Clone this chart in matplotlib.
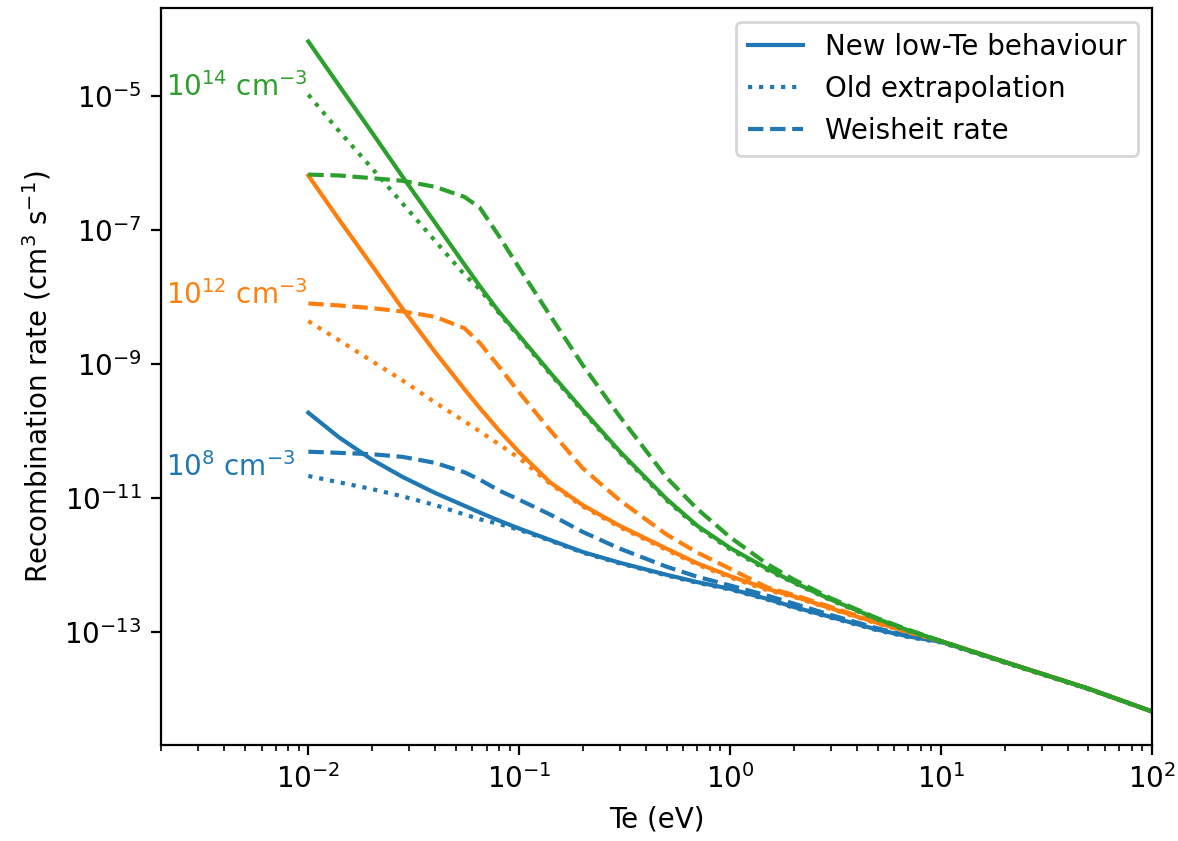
import numpy as np
import matplotlib
matplotlib.use("Agg")
import matplotlib.pyplot as plt

# Electron temperature grid (eV)
Te = [0.01, 0.014, 0.02, 0.028, 0.04, 0.055, 0.065, 0.08, 0.1, 0.14, 0.2, 0.3,
      0.5, 0.7, 1, 1.5, 2, 3, 5, 7, 10, 20, 50, 100]

# log10 of recombination rate (cm^3 s^-1)
ne14_new = [-4.18, -4.84, -5.535, -6.20, -6.89, -7.51, -7.83, -8.21, -8.57, -9.12, -9.68, -10.30,
            -11.01, -11.41, -11.74, -12.05, -12.25, -12.51, -12.80, -12.97, -13.13, -13.44, -13.84, -14.18]
ne14_old = [-4.975, -5.52, -6.07, -6.60, -7.16, -7.66, -7.88, -8.23, -8.59, -9.14, -9.70, -10.32,
            -11.03, -11.43, -11.76, -12.07, -12.26, -12.52, -12.81, -12.98, -13.14, -13.45, -13.85, -14.18]
ne14_weis = [-6.167, -6.18, -6.22, -6.26, -6.35, -6.50, -6.66, -7.08, -7.56, -8.27, -9.01, -9.78,
             -10.69, -11.16, -11.58, -11.98, -12.21, -12.49, -12.79, -12.96, -13.13, -13.44, -13.84, -14.18]

ne12_new = [-6.18, -6.84, -7.52, -8.17, -8.82, -9.37, -9.65, -9.98, -10.31, -10.76, -11.10, -11.41,
            -11.75, -11.97, -12.16, -12.35, -12.46, -12.64, -12.86, -12.99, -13.13, -13.44, -13.84, -14.18]
ne12_old = [-8.354, -8.64, -8.95, -9.24, -9.57, -9.85, -10.00, -10.19, -10.40, -10.78, -11.12, -11.43,
            -11.77, -11.99, -12.18, -12.37, -12.47, -12.65, -12.87, -13.00, -13.13, -13.44, -13.84, -14.18]
ne12_weis = [-8.09, -8.12, -8.16, -8.21, -8.29, -8.46, -8.68, -9.03, -9.42, -9.98, -10.55, -11.03,
             -11.54, -11.81, -12.05, -12.33, -12.44, -12.62, -12.85, -12.98, -13.13, -13.44, -13.84, -14.18]

ne8_new = [-9.721, -10.09, -10.42, -10.68, -10.92, -11.11, -11.21, -11.33, -11.45, -11.62, -11.80, -11.96,
           -12.14, -12.25, -12.35, -12.50, -12.62, -12.77, -12.96, -13.06, -13.14, -13.44, -13.84, -14.18]
ne8_old = [-10.665, -10.76, -10.86, -10.97, -11.10, -11.24, -11.31, -11.38, -11.47, -11.63, -11.81, -11.97,
           -12.15, -12.26, -12.36, -12.51, -12.63, -12.78, -12.97, -13.07, -13.15, -13.45, -13.84, -14.18]
ne8_weis = [-10.303, -10.32, -10.34, -10.38, -10.47, -10.61, -10.72, -10.88, -11.02, -11.24, -11.50, -11.75,
            -12.02, -12.17, -12.30, -12.45, -12.57, -12.74, -12.94, -13.05, -13.14, -13.44, -13.84, -14.18]

densities = ["10$^{8}$ cm$^{-3}$", "10$^{12}$ cm$^{-3}$", "10$^{14}$ cm$^{-3}$"]
label_y = [10 ** -10.67, 10 ** -8.10, 10 ** -5.0]
colors = ["tab:blue", "tab:orange", "tab:green"]
series = [(ne8_new, ne8_old, ne8_weis), (ne12_new, ne12_old, ne12_weis), (ne14_new, ne14_old, ne14_weis)]
legend_labels = ["New low-Te behaviour", "Old extrapolation", "Weisheit rate"]

fig = plt.figure(figsize=(5.89, 4.205), dpi=200)
ax = fig.add_axes([0.1366, 0.1142, 0.8413, 0.8763])

Te_arr = np.array(Te)
for i, (new, old, weis) in enumerate(series):
    c = colors[i]
    lbl = legend_labels if i == 0 else [None, None, None]
    ax.plot(Te_arr, 10.0 ** np.array(new), color=c, ls='-', label=lbl[0])
    ax.plot(Te_arr, 10.0 ** np.array(old), color=c, ls=':', label=lbl[1])
    ax.plot(Te_arr, 10.0 ** np.array(weis), color=c, ls='--', label=lbl[2])
    ax.text(2.12e-3, label_y[i], densities[i], color=c, ha='left', va='baseline', fontsize=10)

ax.set_xscale('log')
ax.set_yscale('log')
ax.set_xlim(2e-3, 1e2)
ax.set_xlabel("Te (eV)")
ax.set_ylabel("Recombination rate (cm$^3$ s$^{-1}$)")
ax.legend(loc='upper right')

fig.savefig("out.png", dpi=200)
